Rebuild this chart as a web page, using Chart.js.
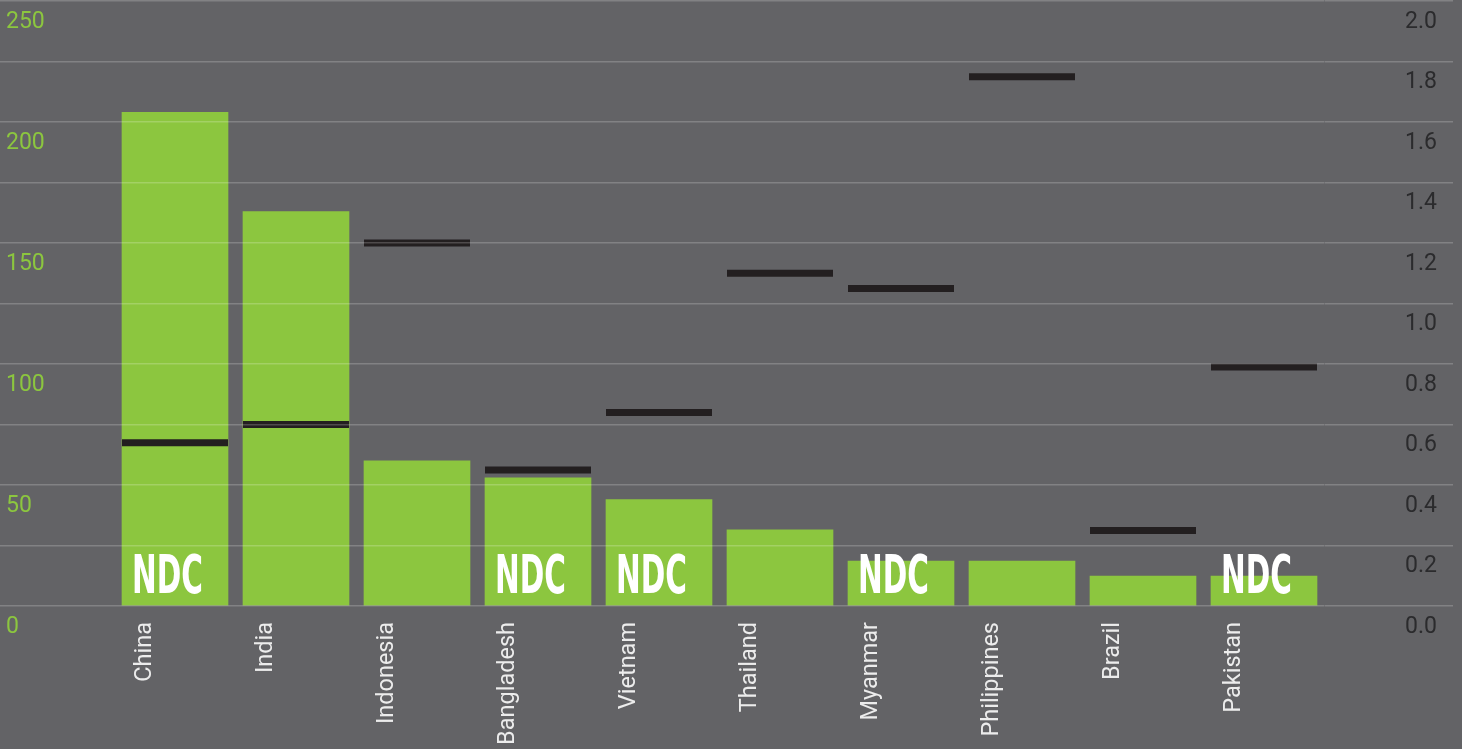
<!DOCTYPE html>
<html>
<head>
<meta charset="utf-8">
<script src="https://cdn.jsdelivr.net/npm/chart.js@4"></script>
<style>
  html, body { margin: 0; padding: 0; background: #636366; }
  #grafico { display: block; }
</style>
</head>
<body>
<canvas id="grafico" width="1462" height="749"></canvas>
<script>
const paises = ['China', 'India', 'Indonesia', 'Bangladesh', 'Vietnam', 'Thailand', 'Myanmar', 'Philippines', 'Brazil', 'Pakistan'];
const valoresBarras = [204, 163, 60, 53, 44, 31.5, 18.6, 18.6, 12.4, 12.4];
const valoresMarcadores = [0.54, 0.60, 1.20, 0.45, 0.64, 1.10, 1.05, 1.75, 0.25, 0.79];
const comNdc = [true, false, false, true, true, false, true, false, false, true];
const ticksEsquerda = [0, 50, 100, 150, 200, 250];

const VERDE = '#8cc63f';
const FONTE = 'Roboto, "DejaVu Sans", sans-serif';

const ctx = document.getElementById('grafico').getContext('2d');

// escreve "NDC" na base das barras marcadas
const pluginNdc = {
  id: 'ndc',
  afterDatasetsDraw(chart) {
    const meta = chart.getDatasetMeta(0);
    const { chartArea } = chart;
    const c = chart.ctx;
    c.save();
    c.fillStyle = '#ffffff';
    c.font = 'bold 54px "Liberation Sans Narrow", "DejaVu Sans Condensed", sans-serif';
    c.textBaseline = 'alphabetic';
    const largura = c.measureText('NDC').width;
    const escala = 71 / largura;
    meta.data.forEach((barra, i) => {
      if (!comNdc[i]) return;
      c.save();
      c.translate(barra.x - barra.width / 2 + 10, chartArea.bottom - 13);
      c.scale(escala, 1);
      c.fillText('NDC', 0, 0);
      c.restore();
    });
    c.restore();
  }
};

function ajustarEixoY(largura) {
  return (escala) => {
    escala.width = largura;
    escala.paddingTop = 0;
    escala.paddingBottom = 0;
  };
}

new Chart(ctx, {
  data: {
    labels: paises,
    datasets: [
      {
        type: 'bar',
        data: valoresBarras,
        backgroundColor: VERDE,
        borderWidth: 0,
        barThickness: 106,
        yAxisID: 'y',
        order: 1
      },
      {
        type: 'line',
        data: valoresMarcadores,
        showLine: false,
        pointStyle: 'line',
        pointRadius: 53,
        pointHoverRadius: 53,
        pointBorderWidth: 7,
        pointHoverBorderWidth: 7,
        borderColor: '#231f20',
        yAxisID: 'y1',
        order: 0
      }
    ]
  },
  options: {
    responsive: false,
    animation: false,
    events: [],
    layout: { autoPadding: false, padding: { top: 1, left: 6, right: 25, bottom: 0 } },
    plugins: {
      legend: { display: false },
      tooltip: { enabled: false }
    },
    scales: {
      x: {
        grid: { display: false },
        border: { display: false },
        afterFit: (escala) => { escala.height = 143; },
        ticks: {
          autoSkip: false,
          minRotation: 90,
          maxRotation: 90,
          padding: 8,
          labelOffset: -30,
          color: '#ececec',
          font: { family: FONTE, size: 23.5 }
        }
      },
      y: {
        position: 'left',
        min: 0,
        max: 250,
        afterFit: ajustarEixoY(108.5),
        border: { display: false },
        grid: {
          color: 'rgba(255,255,255,0.2)',
          lineWidth: 1.5,
          tickLength: 120,
          z: 1
        },
        ticks: {
          stepSize: 25,
          crossAlign: 'far',
          labelOffset: 21,
          color: VERDE,
          font: { family: FONTE, size: 23 },
          callback: (valor) => ticksEsquerda.includes(valor) ? String(valor) : ''
        }
      },
      y1: {
        position: 'right',
        min: 0,
        max: 2,
        afterFit: ajustarEixoY(112.5),
        border: { display: false },
        grid: {
          drawOnChartArea: false,
          color: 'rgba(255,255,255,0.2)',
          lineWidth: 1.5,
          tickLength: 128.5,
          z: 1
        },
        ticks: {
          stepSize: 0.2,
          crossAlign: 'far',
          labelOffset: 21,
          color: '#2b2b2d',
          font: { family: FONTE, size: 23 },
          callback: (valor) => valor.toFixed(1)
        }
      }
    }
  },
  plugins: [pluginNdc]
});
</script>
</body>
</html>
